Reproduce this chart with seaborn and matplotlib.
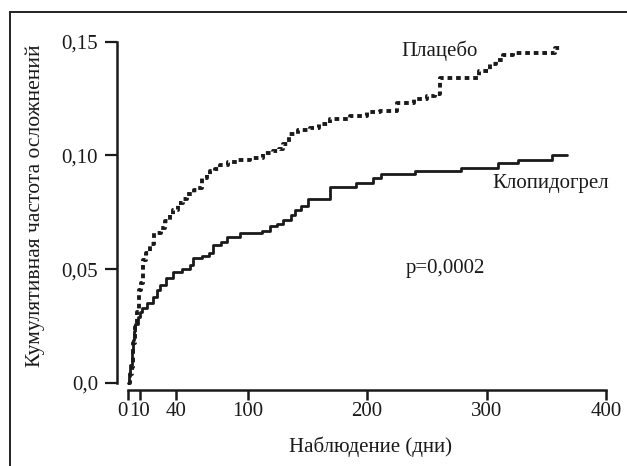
"""
Cumulative complication rate, placebo vs clopidogrel (step curves).
"""
import matplotlib
matplotlib.use("Agg")
import matplotlib.pyplot as plt
from matplotlib.patches import Rectangle
import seaborn as sns
import pandas as pd

# Placebo curve: day of event, cumulative rate
placebo_days = [0, 2, 3, 4, 6, 7.5, 9, 11, 12.5, 15, 18, 22, 28, 31, 35, 38, 42, 46, 49,
                55, 58, 62, 66, 69, 73, 77, 84, 91, 102, 113, 121, 126, 130, 135, 142,
                152, 160, 169, 186, 200, 211, 225, 239, 250, 257, 261, 286, 294, 303,
                308, 314, 322, 357, 363]
placebo_rate = [0, 0.004, 0.007, 0.0175, 0.0245, 0.031, 0.041, 0.044, 0.054, 0.057, 0.061,
                0.066, 0.068, 0.071, 0.074, 0.076, 0.079, 0.081, 0.083, 0.085, 0.0855,
                0.090, 0.0915, 0.093, 0.094, 0.0956, 0.097, 0.098, 0.099, 0.101, 0.102,
                0.103, 0.105, 0.1096, 0.111, 0.112, 0.114, 0.116, 0.1175, 0.119, 0.1197,
                0.123, 0.125, 0.126, 0.127, 0.134, 0.134, 0.137, 0.140, 0.142, 0.144,
                0.145, 0.1474, 0.1474]

# Clopidogrel curve
clopi_days = [0, 1, 2, 3, 4, 5, 6, 8, 10, 12, 16, 21, 24, 27, 32, 38, 45, 52, 54, 62, 68,
              71, 78, 83, 94, 112, 119, 125, 130, 136, 140, 145, 151, 169, 191, 205, 212,
              240, 279, 310, 326, 355, 367]
clopi_rate = [0, 0.003, 0.008, 0.014, 0.019, 0.023, 0.026, 0.029, 0.031, 0.033, 0.035,
              0.038, 0.041, 0.043, 0.046, 0.0487, 0.050, 0.052, 0.055, 0.056, 0.057,
              0.0605, 0.062, 0.064, 0.066, 0.067, 0.069, 0.070, 0.0715, 0.074, 0.076,
              0.078, 0.081, 0.086, 0.0877, 0.090, 0.092, 0.093, 0.0947, 0.0965, 0.098,
              0.100, 0.100]

x_ticks = [0, 10, 40, 100, 200, 300, 400]
y_ticks = [0.0, 0.05, 0.10, 0.15]
y_tick_labels = ["0,0", "0,05", "0,10", "0,15"]

sns.set_style("ticks")
plt.rcParams['font.family'] = ['Liberation Serif', 'DejaVu Serif']
plt.rcParams['font.size'] = 15

INK = '#1a1a1a'

fig = plt.figure(figsize=(6.27, 4.66), dpi=100)
# outer frame (open at right and bottom edges of the image)
fig.patches.append(Rectangle((10 / 627, -0.05), 1.2, 1 - 12 / 466 + 0.05,
                             transform=fig.transFigure, fill=False,
                             edgecolor='#222222', linewidth=1.4))

ax = fig.add_axes([128 / 627, 1 - 383 / 466, 478 / 627, 341.3 / 466])

placebo = pd.DataFrame({'day': placebo_days, 'rate': placebo_rate})
clopi = pd.DataFrame({'day': clopi_days, 'rate': clopi_rate})

sns.lineplot(data=clopi, x='day', y='rate', estimator=None, drawstyle='steps-post',
             color=INK, linewidth=2.0, ax=ax, clip_on=False)
sns.lineplot(data=placebo, x='day', y='rate', estimator=None, drawstyle='steps-post',
             color=INK, linewidth=2.8, linestyle=(0, (1.2, 1.0)), ax=ax, clip_on=False)

ax.set_xlim(0, 400)
ax.set_ylim(0, 0.15)
ax.set_xticks(x_ticks)
ax.set_xticklabels([str(t) for t in x_ticks])
ax.set_yticks(y_ticks)
ax.set_yticklabels(y_tick_labels)

sns.despine(ax=ax, offset={'left': 8, 'bottom': 5}, trim=True)
for side in ['left', 'bottom']:
    ax.spines[side].set_linewidth(1.8)
    ax.spines[side].set_color(INK)
ax.tick_params(axis='y', length=8.5, width=1.6, pad=5, colors=INK, labelsize=15)
ax.tick_params(axis='x', length=7, width=1.8, pad=2, colors=INK, labelsize=15)
# the "0" label sits left of its tick so it does not run into "10"
ax.get_xticklabels()[0].set_ha('right')

ax.set_xlabel("Наблюдение (дни)", fontsize=15, color=INK)
ax.set_ylabel("Кумулятивная частота осложнений", fontsize=15.5, color=INK)
ax.xaxis.set_label_coords(0.508, -0.158)
ax.yaxis.set_label_coords(-0.174, 0.52)

ax.text(229, 0.146, "Плацебо", ha='left', va='center', fontsize=15, color=INK)
ax.text(305, 0.0877, "Клопидогрел", ha='left', va='center', fontsize=15, color=INK)
ax.text(232, 0.0504, "p=0,0002", ha='left', va='center', fontsize=15, color=INK)

fig.savefig("out.png", dpi=100)
